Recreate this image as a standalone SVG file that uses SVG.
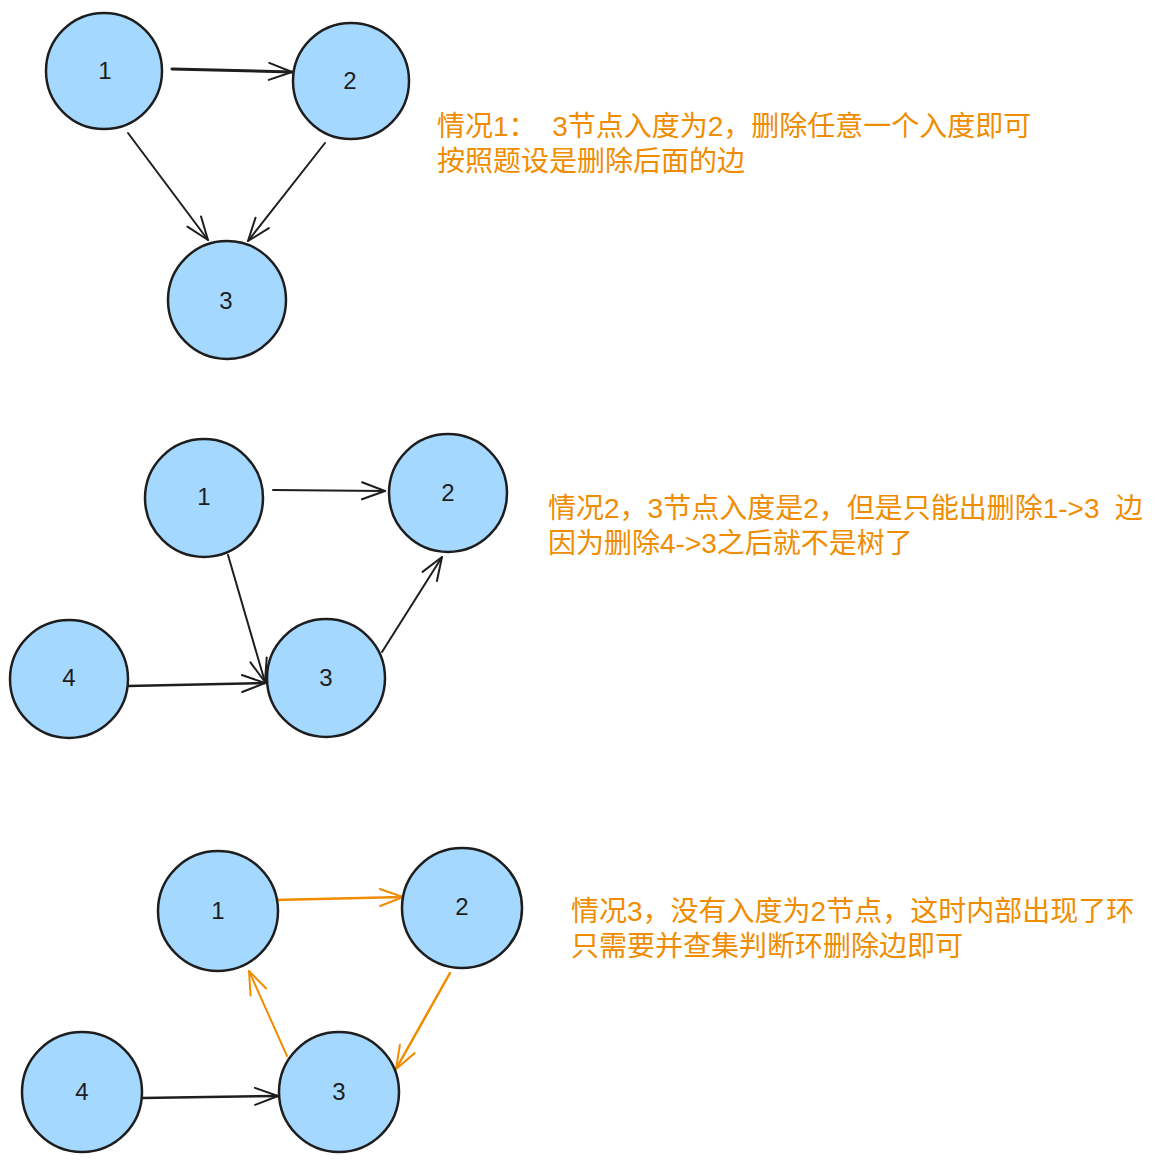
<svg xmlns="http://www.w3.org/2000/svg" width="1155" height="1163" viewBox="0 0 1155 1163">
<style>
.node circle{fill:#a5d8ff;stroke:#1e1e1e;stroke-width:2.5}
.node text{font-family:"Liberation Sans","DejaVu Sans",sans-serif;font-size:24px;fill:#1e1e1e;text-anchor:middle;dominant-baseline:central}
.edge{fill:none;stroke-width:2;stroke-linecap:round}
.blk{stroke:#1e1e1e;marker-end:url(#ah)}
.org{stroke:#f08c00;marker-end:url(#ao)}
.note{font-family:"Liberation Sans","Noto Sans CJK SC",sans-serif;font-size:28px;fill:#f08c00}
</style>
<defs>
<marker id="ah" viewBox="-26 -11 28 22" refX="0" refY="0" markerWidth="28" markerHeight="22" markerUnits="userSpaceOnUse" orient="auto">
<path d="M -23 -8.5 L 0 0 L -23 8.5" fill="none" stroke="#1e1e1e" stroke-width="2" stroke-linecap="round" stroke-linejoin="round"/>
</marker>
<marker id="ao" viewBox="-26 -11 28 22" refX="0" refY="0" markerWidth="28" markerHeight="22" markerUnits="userSpaceOnUse" orient="auto">
<path d="M -23 -8.5 L 0 0 L -23 8.5" fill="none" stroke="#f08c00" stroke-width="2" stroke-linecap="round" stroke-linejoin="round"/>
</marker>
</defs>
<rect width="1155" height="1163" fill="#ffffff"/>

<g id="connectors">
<line class="edge blk" x1="172" y1="69" x2="292" y2="72" style="stroke-width:3"/>
<line class="edge blk" x1="128" y1="133" x2="208" y2="240"/>
<line class="edge blk" x1="325" y1="143" x2="248" y2="241"/>

<line class="edge blk" x1="273" y1="490" x2="385" y2="491"/>
<line class="edge blk" x1="228" y1="555" x2="265" y2="682"/>
<line class="edge blk" x1="128" y1="686" x2="265" y2="683" style="stroke-width:2.5"/>
<line class="edge blk" x1="382" y1="652" x2="442" y2="557"/>

<line class="edge org" x1="275" y1="900" x2="403" y2="897" style="stroke-width:2.5"/>
<line class="edge org" x1="450" y1="973" x2="396" y2="1069" style="stroke-width:2.5"/>
<line class="edge org" x1="287" y1="1056" x2="249" y2="971"/>
<line class="edge blk" x1="142" y1="1098" x2="278" y2="1096" style="stroke-width:2.5"/>
</g>

<g id="s1-n1" class="node"><circle cx="104" cy="71" r="58"/><text x="105" y="70">1</text></g>
<g id="s1-n2" class="node"><circle cx="351" cy="81" r="58"/><text x="350" y="80">2</text></g>
<g id="s1-n3" class="node"><circle cx="227" cy="300" r="59"/><text x="226" y="300">3</text></g>

<g id="s2-n1" class="node"><circle cx="204" cy="498" r="59"/><text x="204" y="496">1</text></g>
<g id="s2-n2" class="node"><circle cx="448" cy="493" r="59"/><text x="448" y="492">2</text></g>
<g id="s2-n4" class="node"><circle cx="69" cy="679" r="59"/><text x="69" y="677">4</text></g>
<g id="s2-n3" class="node"><circle cx="326" cy="678" r="59"/><text x="326" y="677">3</text></g>

<g id="s3-n1" class="node"><circle cx="218" cy="911" r="60"/><text x="218" y="910">1</text></g>
<g id="s3-n2" class="node"><circle cx="462" cy="908" r="60"/><text x="462" y="906">2</text></g>
<g id="s3-n4" class="node"><circle cx="82" cy="1092" r="60"/><text x="82" y="1091">4</text></g>
<g id="s3-n3" class="node"><circle cx="339" cy="1092" r="60"/><text x="339" y="1091">3</text></g>

<g id="note1"><text class="note" x="437" y="136" xml:space="preserve">情况1：  3节点入度为2，删除任意一个入度即可</text><text class="note" x="437" y="171">按照题设是删除后面的边</text></g>
<g id="note2"><text class="note" x="548" y="518" xml:space="preserve">情况2，3节点入度是2，但是只能出删除1-&gt;3  边</text><text class="note" x="548" y="553">因为删除4-&gt;3之后就不是树了</text></g>
<g id="note3"><text class="note" x="571" y="921">情况3，没有入度为2节点，这时内部出现了环</text><text class="note" x="571" y="956">只需要并查集判断环删除边即可</text></g>
</svg>
